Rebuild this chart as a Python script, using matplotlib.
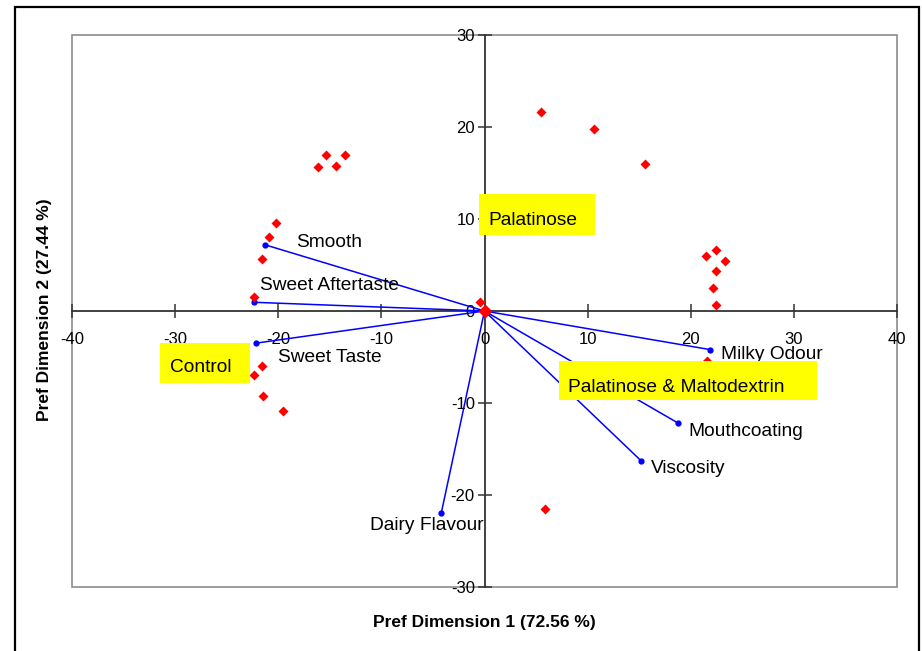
import matplotlib.pyplot as plt
from matplotlib.patches import Rectangle

plt.rcParams['font.family'] = ['Liberation Sans', 'DejaVu Sans']
plt.rcParams['axes.unicode_minus'] = False

# consumer preference scores (red diamonds)
cons_x = [5.5, 10.6, 15.6, -15.4, -13.5, -16.1, -14.4, -20.2, -20.9, -21.6, -22.4,
          -21.6, -22.4, -21.5, -19.5, 5.9, 21.5, 22.4, 23.3, 22.4, 22.2, 22.4, 21.6, -0.4]
cons_y = [21.6, 19.8, 16.0, 17.0, 17.0, 15.7, 15.8, 9.6, 8.0, 5.6, 1.5,
          -6.0, -7.0, -9.2, -10.9, -21.5, 6.0, 6.6, 5.4, 4.4, 2.5, 0.65, -5.4, 1.0]

# sensory attribute loadings (blue vectors)
attributes = ['Smooth', 'Sweet Aftertaste', 'Sweet Taste', 'Milky Odour',
              'Mouthcoating', 'Viscosity', 'Dairy Flavour']
attr_x = [-21.3, -22.4, -22.2, 21.9, 18.8, 15.2, -4.2]
attr_y = [7.2, 0.95, -3.5, -4.2, -12.2, -16.3, -22.0]

products = ['Palatinose', 'Control', 'Palatinose & Maltodextrin']

# label offsets (pixels) from each vector tip
label_off = {'Smooth': (31, 2), 'Sweet Aftertaste': (7, 17), 'Sweet Taste': (22, -14),
             'Milky Odour': (11, -5), 'Mouthcoating': (10, -8), 'Viscosity': (10, -8),
             'Dairy Flavour': (-71, -12)}

fig = plt.figure(figsize=(9.22, 6.51), dpi=100)
ax = fig.add_axes([72 / 922, 1 - 587 / 651, 825 / 922, 552 / 651])

ax.set_xlim(-40, 40)
ax.set_ylim(-30, 30)

for x, y in zip(attr_x, attr_y):
    ax.plot([0, x], [0, y], color='#0000ff', lw=1.1, zorder=2)
ax.plot(attr_x, attr_y, 'o', color='#0000ff', ms=3.5, zorder=3)

ax.plot(cons_x, cons_y, 'D', color='#ff0000', ms=5, mec='none', zorder=3)
ax.plot([0], [0], 'D', color='#ff0000', ms=7, mec='none', zorder=4)

for name, x, y in zip(attributes, attr_x, attr_y):
    dx, dy = label_off[name]
    ax.annotate(name, (x, y), xytext=(dx, dy), textcoords='offset pixels',
                ha='left', va='center', fontsize=13.8, zorder=5)

# yellow product boxes
boxes = {'Palatinose': ((-0.53, 8.26), 11.25, 4.46, (0.34, 9.8)),
         'Control': ((-31.47, -7.83), 8.73, 4.35, (-30.5, -6.15)),
         'Palatinose & Maltodextrin': ((7.23, -9.67), 25.02, 4.24, (8.1, -8.33))}
for name in products:
    (bx, by), w, h, (tx, ty) = boxes[name]
    ax.add_patch(Rectangle((bx, by), w, h, facecolor='#ffff00', edgecolor='none', zorder=6))
    ax.text(tx, ty, name, ha='left', va='center', fontsize=13.8, zorder=7)

# axes crossing at the origin
for side in ['top', 'right']:
    ax.spines[side].set_visible(False)
ax.spines['left'].set_position('zero')
ax.spines['bottom'].set_position('zero')
for side in ['left', 'bottom']:
    ax.spines[side].set_color('#333333')
    ax.spines[side].set_linewidth(1.3)
    ax.spines[side].set_zorder(1)
ax.set_xticks(range(-40, 41, 10))
ax.set_yticks(range(-30, 31, 10))
ax.tick_params(direction='inout', length=10, width=1.1, color='#333333',
               labelsize=12, pad=2)
ax.tick_params(axis='x', pad=10)

ax.add_patch(Rectangle((0, 0), 1, 1, transform=ax.transAxes, fill=False,
                       edgecolor='#8c8c8c', lw=1.2, clip_on=False, zorder=0))

fig.text(484 / 922, 1 - 622 / 651, 'Pref Dimension 1 (72.56 %)', ha='center', va='center',
         fontsize=12.5, fontweight='bold')
fig.text(44 / 922, 1 - 310 / 651, 'Pref Dimension 2 (27.44 %)', ha='center', va='center',
         rotation=90, fontsize=12.5, fontweight='bold')

# outer chart border
fig.patches.append(Rectangle((14.5 / 922, -0.1), 904.5 / 922, 1.1 - 6.5 / 651,
                             transform=fig.transFigure, fill=False, edgecolor='black', lw=1.6))

fig.savefig('out.png', dpi=100)
